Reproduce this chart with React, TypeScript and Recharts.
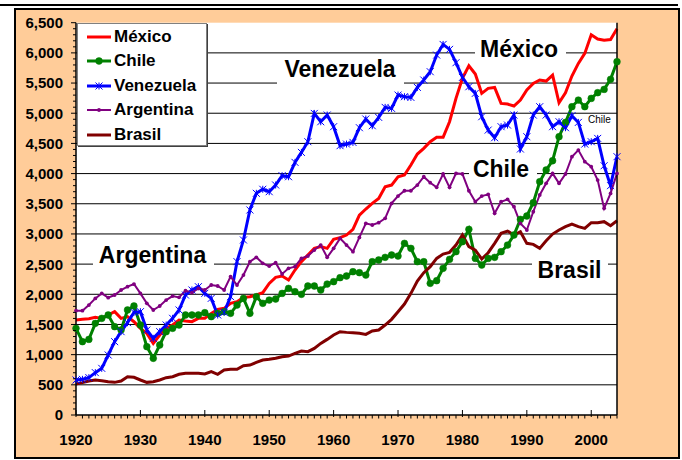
import React from "react";
import { LineChart, Line, XAxis, YAxis, CartesianGrid, Legend } from "recharts";

const years = [
  1920, 1921, 1922, 1923, 1924, 1925, 1926, 1927, 1928, 1929,
  1930, 1931, 1932, 1933, 1934, 1935, 1936, 1937, 1938, 1939,
  1940, 1941, 1942, 1943, 1944, 1945, 1946, 1947, 1948, 1949,
  1950, 1951, 1952, 1953, 1954, 1955, 1956, 1957, 1958, 1959,
  1960, 1961, 1962, 1963, 1964, 1965, 1966, 1967, 1968, 1969,
  1970, 1971, 1972, 1973, 1974, 1975, 1976, 1977, 1978, 1979,
  1980, 1981, 1982, 1983, 1984, 1985, 1986, 1987, 1988, 1989,
  1990, 1991, 1992, 1993, 1994, 1995, 1996, 1997, 1998, 1999,
  2000, 2001, 2002, 2003, 2004,
];

const mexico = [
  1574, 1585, 1596, 1618, 1601, 1657, 1712, 1601, 1629, 1546,
  1436, 1353, 1187, 1325, 1436, 1491, 1574, 1557, 1546, 1601,
  1601, 1684, 1750, 1767, 1850, 1877, 1949, 1960, 1988, 2027,
  2181, 2281, 2303, 2236, 2402, 2540, 2651, 2761, 2789, 2761,
  2910, 2938, 2982, 3076, 3313, 3413, 3506, 3589, 3783, 3810,
  3948, 3976, 4142, 4324, 4418, 4528, 4600, 4600, 4859, 5246,
  5577, 5787, 5649, 5329, 5412, 5428, 5163, 5152, 5119, 5218,
  5384, 5494, 5550, 5533, 5632, 5174, 5340, 5616, 5826, 5991,
  6300, 6230, 6210, 6220, 6400,
];

const chile = [
  1436, 1215, 1253, 1519, 1601, 1657, 1463, 1408, 1740, 1806,
  1491, 1132, 939, 1160, 1380, 1436, 1491, 1657, 1657, 1657,
  1695, 1629, 1684, 1712, 1684, 1822, 1932, 1684, 1960, 1850,
  1905, 1922, 2015, 2098, 2043, 1999, 2137, 2137, 2071, 2170,
  2209, 2275, 2303, 2374, 2358, 2319, 2540, 2568, 2612, 2651,
  2634, 2844, 2761, 2540, 2540, 2181, 2225, 2430, 2579, 2706,
  2871, 3076, 2595, 2485, 2595, 2612, 2706, 2816, 2982, 3241,
  3297, 3517, 3865, 4059, 4213, 4611, 4848, 5108, 5218, 5108,
  5246, 5340, 5395, 5561, 5853,
];

const venezuela = [
  580, 591, 619, 702, 773, 994, 1215, 1381, 1530, 1701,
  1712, 1408, 1270, 1381, 1491, 1602, 1740, 1988, 2071, 2126,
  2016, 1933, 1657, 1701, 1961, 2541, 2900, 3397, 3673, 3740,
  3700, 3811, 3965, 3948, 4186, 4351, 4528, 4997, 4859, 4970,
  4777, 4462, 4489, 4517, 4760, 4904, 4793, 4931, 5097, 5080,
  5301, 5274, 5262, 5428, 5550, 5688, 5964, 6140, 6058, 5837,
  5594, 5439, 5329, 4942, 4721, 4594, 4777, 4804, 4970, 4407,
  4611, 4970, 5108, 4970, 4777, 4859, 4760, 4959, 4848, 4489,
  4528, 4583, 4130, 3800, 4280,
];

const argentina = [
  1729, 1729, 1822, 1932, 2015, 1944, 1988, 2071, 2126, 2170,
  2015, 1850, 1740, 1806, 1905, 1971, 1949, 2060, 2027, 2098,
  2071, 2154, 2137, 2071, 2292, 2154, 2319, 2540, 2612, 2513,
  2468, 2524, 2336, 2430, 2457, 2595, 2634, 2733, 2816, 2612,
  2761, 2927, 2816, 2706, 2943, 3175, 3148, 3186, 3258, 3506,
  3628, 3716, 3716, 3810, 3948, 3849, 3772, 3993, 3772, 4003,
  3993, 3716, 3534, 3628, 3656, 3341, 3534, 3573, 3451, 3175,
  3065, 3368, 3645, 3838, 4003, 3838, 3993, 4280, 4390, 4197,
  4114, 3893, 3424, 3672, 4003,
];

const brasil = [
  514, 536, 563, 580, 569, 552, 541, 563, 635, 624,
  580, 541, 552, 580, 618, 635, 674, 690, 690, 690,
  679, 718, 674, 745, 757, 757, 817, 828, 872, 911,
  922, 939, 966, 977, 1022, 1060, 1049, 1104, 1187, 1253,
  1325, 1380, 1369, 1364, 1353, 1336, 1392, 1408, 1491, 1585,
  1712, 1839, 2015, 2220, 2358, 2457, 2595, 2667, 2695, 2816,
  2982, 2789, 2733, 2584, 2689, 2844, 3010, 3048, 2982, 3037,
  2844, 2827, 2761, 2888, 2998, 3065, 3120, 3164, 3120, 3092,
  3186, 3186, 3203, 3137, 3219,
];

const yMajorTicks = [0, 500, 1000, 1500, 2000, 2500, 3000, 3500, 4000, 4500, 5000, 5500, 6000, 6500];
const gridValues = [500, 1000, 1500, 2000, 2500, 3000, 3500, 4000, 4500, 5000, 5500, 6000];
const xLabelTicks = [1920, 1930, 1940, 1950, 1960, 1970, 1980, 1990, 2000];
// minor ticks every 100 on y, every year on x
const yTicks = Array.from({ length: 66 }, (_, i) => i * 100);

const data = years.map((year, i) => ({
  year,
  "México": mexico[i],
  Chile: chile[i],
  Venezuela: venezuela[i],
  Argentina: argentina[i],
  Brasil: brasil[i],
}));

const series = [
  { key: "México", color: "#FF0000", width: 3, marker: "none" },
  { key: "Chile", color: "#008000", width: 3, marker: "circle" },
  { key: "Venezuela", color: "#0000FF", width: 3, marker: "star" },
  { key: "Argentina", color: "#800080", width: 2, marker: "dot" },
  { key: "Brasil", color: "#800000", width: 3, marker: "none" },
];

const FONT = '"Liberation Sans", Arial, sans-serif';

function Marker({ cx, cy, kind, color }: any) {
  if (cx == null || cy == null) return null;
  if (kind === "circle") return <circle cx={cx} cy={cy} r={3.4} fill={color} stroke={color} strokeWidth={0.5} />;
  if (kind === "dot") return <circle cx={cx} cy={cy} r={1.9} fill={color} />;
  const s = 3.5;
  return (
    <path
      d={`M${cx - s},${cy - s}L${cx + s},${cy + s}M${cx - s},${cy + s}L${cx + s},${cy - s}M${cx},${cy - s}L${cx},${cy + s}`}
      stroke={color}
      strokeWidth={1}
      fill="none"
    />
  );
}

const LeftTick = ({ x, y, payload }: any) => {
  const v = payload.value;
  const major = v % 500 === 0;
  return (
    <g>
      <line x1={x - (major ? 5 : 3)} x2={x} y1={y} y2={y} stroke="#000" />
      {major && (
        <text x={x - 13} y={y} dy={5.4} textAnchor="end" fontFamily={FONT} fontWeight="bold" fontSize={15} fill="#000">
          {v.toLocaleString("en-US")}
        </text>
      )}
    </g>
  );
};

const RightTick = ({ x, y, payload }: any) => {
  const v = payload.value;
  const major = v % 500 === 0;
  return (
    <g>
      <line x1={x} x2={x + (major ? 5 : 3)} y1={y} y2={y} stroke="#000" />
      {major && (
        <text x={x + 13} y={y} dy={5.4} textAnchor="start" fontFamily={FONT} fontWeight="bold" fontSize={15} fill="#000">
          {v.toLocaleString("en-US")}
        </text>
      )}
    </g>
  );
};

const BottomTick = ({ x, y, payload }: any) => {
  const v = payload.value;
  const major = xLabelTicks.includes(v);
  return (
    <g>
      {major ? (
        <line x1={x} x2={x} y1={y - 5} y2={y + 2} stroke="#000" />
      ) : (
        <line x1={x} x2={x} y1={y} y2={y + 3.5} stroke="#000" />
      )}
      {major && (
        <text x={x} y={y + 30} textAnchor="middle" fontFamily={FONT} fontWeight="bold" fontSize={15} fill="#000">
          {v}
        </text>
      )}
    </g>
  );
};

const renderLegend = () => (
  <div
    style={{
      position: "relative",
      width: 130,
      height: 123,
      boxSizing: "border-box",
      background: "#fff",
      border: "1px solid #808080",
      boxShadow: "1px 1px 0 #404040",
      fontFamily: FONT,
      fontWeight: "bold",
      fontSize: 17,
      color: "#000",
    }}
  >
    {series.map((s, i) => (
      <div key={s.key} style={{ position: "absolute", left: 9, top: 1 + i * 24.5, height: 24, display: "flex", alignItems: "center" }}>
        <svg width={24} height={12} style={{ display: "block" }}>
          <line x1={0} x2={24} y1={6} y2={6} stroke={s.color} strokeWidth={s.width} />
          {s.marker !== "none" && <Marker cx={12} cy={6} kind={s.marker} color={s.color} />}
        </svg>
        <span style={{ marginLeft: 3, lineHeight: "24px" }}>{s.key}</span>
      </div>
    ))}
  </div>
);

const notes = [
  { text: "Venezuela", x: 340, y: 77, box: [277, 57, 127, 28] },
  { text: "México", x: 519, y: 57, box: [475, 38, 91, 24] },
  { text: "Chile", x: 501, y: 177, box: [469, 157, 68, 23] },
  { text: "Argentina", x: 152.5, y: 263, box: [93, 243, 121, 27] },
  { text: "Brasil", x: 569.5, y: 278, box: [532, 258, 76, 24] },
];

const Notes = () => (
  <g>
    {notes.map((n) => (
      <g key={n.text}>
        <rect x={n.box[0]} y={n.box[1]} width={n.box[2]} height={n.box[3]} fill="#fff" />
        <text x={n.x} y={n.y} textAnchor="middle" fontFamily={FONT} fontWeight="bold" fontSize={23} fill="#000">
          {n.text}
        </text>
      </g>
    ))}
    <text x={588} y={122.5} fontFamily={FONT} fontSize={10} fill="#000">
      Chile
    </text>
  </g>
);

export default function App() {
  return (
    <div style={{ position: "absolute", left: 0, top: 0, width: 682, height: 460, background: "#fff", overflow: "hidden" }}>
      <div style={{ position: "absolute", left: 0, top: 3.5, width: 678, height: 2.5, background: "#000" }} />
      <div
        style={{
          position: "absolute",
          left: 14,
          top: 8,
          width: 666,
          height: 451,
          boxSizing: "border-box",
          background: "#FFCC99",
          border: "2px solid #000",
        }}
      />
      <div style={{ position: "absolute", left: 0, top: 0 }}>
        <LineChart width={682} height={460} data={data} margin={{ top: 22.7, right: 5, bottom: 15, left: 16 }}>
          <CartesianGrid horizontal vertical={false} horizontalValues={gridValues} stroke="#000" fill="#fff" fillOpacity={1} />
          <XAxis
            dataKey="year"
            type="number"
            domain={[1920, 2004]}
            ticks={years}
            interval={0}
            height={30}
            tickSize={0}
            tickMargin={0}
            tickLine={false}
            tick={<BottomTick />}
            axisLine={{ stroke: "#000", strokeWidth: 1.5 }}
          />
          <YAxis
            domain={[0, 6500]}
            ticks={yTicks}
            interval={0}
            width={60}
            tickSize={0}
            tickMargin={0}
            tickLine={false}
            tick={<LeftTick />}
            axisLine={{ stroke: "#000", strokeWidth: 1.5 }}
          />
          <YAxis
            yAxisId="right"
            orientation="right"
            domain={[0, 6500]}
            ticks={yTicks}
            interval={0}
            width={60}
            tickSize={0}
            tickMargin={0}
            tickLine={false}
            tick={<RightTick />}
            axisLine={{ stroke: "#000", strokeWidth: 1.5 }}
          />
          <Notes />
          {series.map((s) => (
            <Line
              key={s.key}
              dataKey={s.key}
              type="linear"
              stroke={s.color}
              strokeWidth={s.width}
              isAnimationActive={false}
              dot={
                s.marker === "none"
                  ? false
                  : (p: any) => <Marker key={`${s.key}-${p.index}`} cx={p.cx} cy={p.cy} kind={s.marker} color={s.color} />
              }
              activeDot={false}
            />
          ))}
          <Legend
            layout="vertical"
            align="center"
            verticalAlign="middle"
            content={renderLegend}
            wrapperStyle={{ left: 77, top: 22.7, width: 130, height: 123 }}
          />
        </LineChart>
      </div>
    </div>
  );
}
